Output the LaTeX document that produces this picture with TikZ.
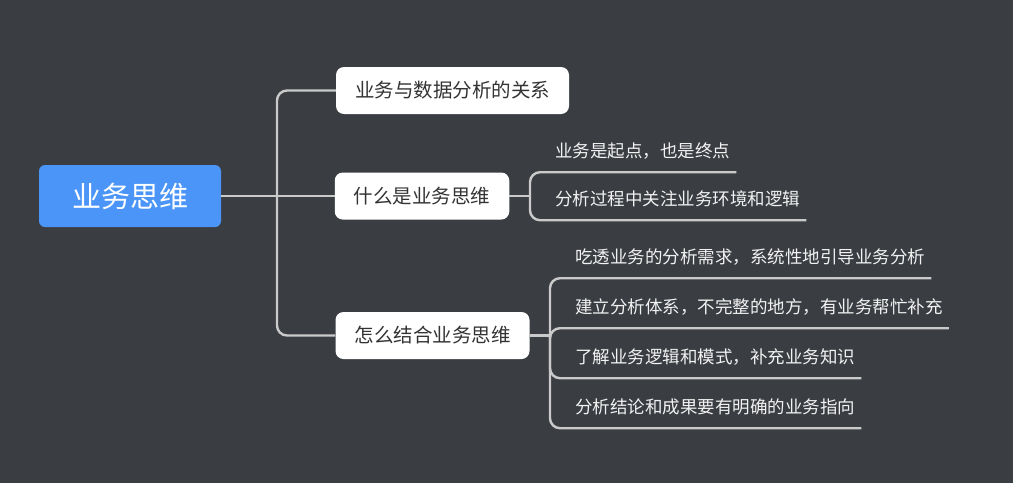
\documentclass[tikz,border=0pt]{standalone}
\usepackage{fontspec}
\newfontfamily\cjk{Noto Sans CJK SC}
\definecolor{bgc}{HTML}{3A3D42}
\definecolor{rootc}{HTML}{4A95F7}
\definecolor{linec}{HTML}{CACACA}
\definecolor{btext}{HTML}{333333}
\definecolor{ltext}{HTML}{F2F2F2}
\tikzset{
  rootbox/.style={fill=rootc, rounded corners=6pt, text=white, inner xsep=33pt,
    minimum height=62pt, font=\cjk\fontsize{29}{34}\selectfont},
  branchbox/.style={fill=white, rounded corners=8pt, text=btext, inner xsep=19pt,
    minimum height=47pt, font=\cjk\fontsize{19.5}{23}\selectfont},
  leaf/.style={text=ltext, anchor=west, inner xsep=6pt, inner ysep=0pt, minimum height=42pt,
    font=\cjk\fontsize{17.5}{21}\selectfont},
  conn/.style={draw=linec, line width=2.4pt},
  bracket/.style={conn, rounded corners=10pt},
}
\begin{document}
\begin{tikzpicture}[x=1pt,y=-1pt]
\fill[bgc] (0,0) rectangle (1013,483);
\useasboundingbox (0,0) rectangle (1013,483);

\node[rootbox] (root) at (130,196) {业务思维};
\node[branchbox] (b1) at (452.5,90.5) {业务与数据分析的关系};
\node[branchbox] (b2) at (422,196) {什么是业务思维};
\node[branchbox] (b3) at (432.5,335.5) {怎么结合业务思维};

\coordinate (t) at (277,196);
\coordinate (j2) at (530,196);
\coordinate (j3) at (550,335.5);

\node[leaf] (l21) at (549,151) {业务是起点，也是终点};
\node[leaf] (l22) at (549,199) {分析过程中关注业务环境和逻辑};
\node[leaf] (l31) at (569,257) {吃透业务的分析需求，系统性地引导业务分析};
\node[leaf] (l32) at (569,307) {建立分析体系，不完整的地方，有业务帮忙补充};
\node[leaf] (l33) at (569,357) {了解业务逻辑和模式，补充业务知识};
\node[leaf] (l34) at (569,407) {分析结论和成果要有明确的业务指向};

\draw[conn] (root.east) -- (t);
\draw[bracket] (t) |- (b1.west);
\draw[conn] (t) -- (b2.west);
\draw[bracket] (t) |- (b3.west);

\draw[conn] (b2.east) -- (j2);
\draw[bracket] (j2) |- (l21.south east);
\draw[bracket] (j2) |- (l22.south east);

\draw[conn] (b3.east) -- (j3);
\draw[bracket] (j3) |- (l31.south east);
\draw[bracket] (j3) |- (l32.south east);
\draw[bracket] (j3) |- (l33.south east);
\draw[bracket] (j3) |- (l34.south east);
\end{tikzpicture}
\end{document}
